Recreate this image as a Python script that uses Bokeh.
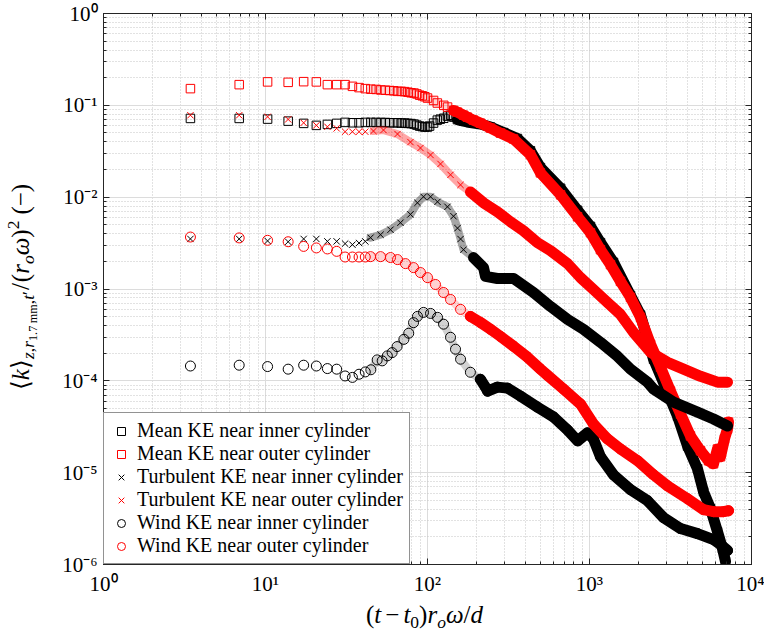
from bokeh.plotting import figure
from bokeh.layouts import row, column
from bokeh.models import (LogAxis, LogTicker, CustomJSTickFormatter, Legend,
                          LegendItem, Range1d, Div)
from bokeh.embed import file_html
from bokeh.resources import INLINE

# ---------------- data ----------------
# first, individually visible samples (t - t0) r_o omega / d
T_EARLY = [3.44, 6.88, 10.3, 13.8, 17.2, 20.6, 24.1, 27.5, 31.0, 34.4, 37.8, 41.3]

# Mean KE near inner cylinder
MI_EARLY = [0.072, 0.072, 0.0708, 0.0673, 0.0636, 0.0605, 0.062, 0.0636, 0.0652, 0.0646, 0.0646, 0.0652]
MI_T = [44.7, 48.2, 51.6, 55.0, 58.5, 61.9, 65.3, 68.8, 72.2, 75.7, 79.1, 82.6, 86.0, 89.4, 92.9, 96.3,
        100, 103, 109, 115, 120, 126, 133, 139, 145, 153, 167, 184, 212, 245, 295, 359, 432, 498, 663,
        844, 1014, 1169, 1406, 1791, 2065, 2485, 3030, 3493, 4028, 4642, 5057, 5583, 6166, 6622, 6910]
MI_K = [0.0652, 0.0652, 0.065, 0.065, 0.0646, 0.0646, 0.0646, 0.0641, 0.0641, 0.0636, 0.0633, 0.0625,
        0.0609, 0.0594, 0.0587, 0.058, 0.058, 0.0594, 0.0641, 0.069, 0.0707, 0.0723, 0.0763, 0.078,
        0.0744, 0.070, 0.0673, 0.065, 0.0625, 0.058, 0.0505, 0.0435, 0.032, 0.021, 0.0125, 0.0072,
        0.0048, 0.0032, 0.00195, 0.00085, 0.00052, 0.000172, 7.54e-5, 4.14e-5, 1.95e-5, 1.1e-5,
        6.2e-6, 4.06e-6, 2.28e-6, 1.49e-6, 1.08e-6]

# Mean KE near outer cylinder
MO_EARLY = [0.152, 0.168, 0.180, 0.178, 0.181, 0.180, 0.168, 0.168, 0.168, 0.161, 0.156, 0.152]
MO_T = [44.7, 48.2, 51.6, 55.0, 58.5, 61.9, 65.3, 68.8, 72.2, 75.7, 79.1, 82.6, 86.0, 89.4, 92.9, 96.3,
        100, 109, 115, 126, 133, 145, 153, 167, 176, 192, 212, 245, 282, 340, 432, 498, 663, 844, 1014,
        1169, 1348, 1553, 1791, 2065, 2381, 2744, 3162, 3647, 4201, 4845, 5430, 5827, 6166, 6435, 6810,
        7112, 7211]
MO_K = [0.150, 0.149, 0.147, 0.146, 0.145, 0.144, 0.142, 0.142, 0.141, 0.139, 0.137, 0.136, 0.133,
        0.129, 0.127, 0.124, 0.120, 0.113, 0.106, 0.100, 0.0957, 0.088, 0.0843, 0.078, 0.0744, 0.069,
        0.064, 0.0565, 0.0499, 0.043, 0.029, 0.0184, 0.0106, 0.00612, 0.0041, 0.00268, 0.00184,
        0.00121, 0.000809, 0.000491, 0.00025, 0.000141, 7.73e-5, 4.35e-5, 2.51e-5, 1.73e-5, 1.35e-5,
        1.25e-5, 1.81e-5, 1.49e-5, 2.33e-5, 2.99e-5, 3.56e-5]

# Turbulent KE near inner cylinder
TI_EARLY = [0.00351, 0.00351, 0.00334, 0.00327, 0.00351, 0.00351, 0.0033, 0.0033, 0.00312, 0.00304, 0.00317, 0.0033]
TI_T = [44.5, 51.3, 59.1, 68.1, 78.5, 86.7, 94.5, 104.4, 115.3, 132.8, 144.7, 153.2, 160, 166.8, 192.3,
        221.8, 228, 270, 340, 451, 574, 732, 919, 1169, 1489, 1791, 2280, 2485, 3302, 4642, 5827, 7112]
TI_K = [0.00362, 0.0039, 0.00442, 0.00527, 0.0065, 0.00868, 0.0101, 0.0101, 0.0089, 0.00785, 0.0062,
        0.0046, 0.0035, 0.00268, 0.0022, 0.00171, 0.00137, 0.0013, 0.0013, 0.000916, 0.000646,
        0.000467, 0.000364, 0.000263, 0.000185, 0.000134, 9.68e-5, 8.12e-5, 5.87e-5, 4.57e-5,
        3.84e-5, 3.22e-5]

# Turbulent KE near outer cylinder
TO_EARLY = [0.078, 0.078, 0.075, 0.0703, 0.0645, 0.0605, 0.0584, 0.0561, 0.0516, 0.0516, 0.0516, 0.0516]
TO_T = [46.4, 53.5, 65.3, 78.5, 90.5, 104.4, 120.3, 138.7, 159.9, 184.2, 221.8, 270.4, 325, 391, 477,
        574, 732, 880, 1058, 1291, 1553, 1870, 2381, 3030, 3806, 4845, 6166, 7112]
TO_K = [0.0525, 0.0538, 0.0487, 0.0398, 0.0343, 0.0288, 0.023, 0.0175, 0.0136, 0.0114, 0.00868,
        0.00693, 0.0054, 0.00431, 0.0032, 0.00262, 0.00189, 0.00133, 0.000988, 0.000714, 0.000529,
        0.000337, 0.000205, 0.000159, 0.000134, 0.000112, 9.68e-5, 9.68e-5]

# Wind KE near inner cylinder
WI_EARLY = [0.000145, 0.000148, 0.000143, 0.000134, 0.000148, 0.000145, 0.000136, 0.000134, 0.000113, 0.000109, 0.000118, 0.000125]
WI_T = [44.7, 48.9, 52.5, 56.5, 60.5, 64.9, 71.5, 76.6, 82.0, 86.7, 94.5, 104.4, 115.3, 125.6, 138.7,
        148.9, 160, 184, 212, 228, 235, 270, 312, 375, 477, 600, 732, 844, 972, 1058, 1169, 1406,
        1791, 2280, 2864, 3647, 4642, 5827, 6435, 7112]
WI_K = [0.000132, 0.000169, 0.000165, 0.000187, 0.000203, 0.000236, 0.000283, 0.00033, 0.00043,
        0.000503, 0.000556, 0.000542, 0.000491, 0.000414, 0.000298, 0.000221, 0.000172, 0.000124,
        0.000104, 8.54e-5, 7.73e-5, 8.54e-5, 8.33e-5, 6.82e-5, 5.18e-5, 4.04e-5, 2.92e-5, 2.22e-5,
        2.71e-5, 2.33e-5, 1.49e-5, 9.48e-6, 6.52e-6, 4.95e-6, 3.24e-6, 2.46e-6, 2.17e-6, 1.87e-6,
        1.65e-6, 1.42e-6]

# Wind KE near outer cylinder
WO_EARLY = [0.00368, 0.0036, 0.00339, 0.00327, 0.00291, 0.0028, 0.00273, 0.00257, 0.00223, 0.00223, 0.00223, 0.00223]
WO_T = [44.5, 51.3, 59.1, 65.3, 73.1, 82, 90.5, 100, 112, 125.6, 138.7, 160, 184, 212, 245, 282, 340,
        414, 498, 550, 692, 880, 1058, 1291, 1553, 1979, 2485, 3030, 4028, 5057, 5827, 6716, 7211]
WO_K = [0.00225, 0.00225, 0.0022, 0.00209, 0.00189, 0.00171, 0.00151, 0.00133, 0.00112, 0.000916,
        0.000769, 0.0006, 0.000503, 0.000433, 0.000364, 0.000305, 0.000238, 0.000181, 0.000134,
        0.000115, 8.12e-5, 5.59e-5, 3.39e-5, 2.33e-5, 1.81e-5, 1.35e-5, 9.48e-6, 7.19e-6, 5.2e-6,
        3.95e-6, 3.76e-6, 3.76e-6, 3.85e-6]

LABELS = ["Mean KE near inner cylinder", "Mean KE near outer cylinder",
          "Turbulent KE near inner cylinder", "Turbulent KE near outer cylinder",
          "Wind KE near inner cylinder", "Wind KE near outer cylinder"]

# ---------------- styling ----------------
BLACK, RED = "#000000", "#ff0000"
AX = "#262626"
FONT = "Liberation Serif"

SERIES = [
    dict(early=MI_EARLY, t=MI_T, k=MI_K, marker="square", size=8.5, color=BLACK, band_from=160, chain_alpha=0.18),
    dict(early=MO_EARLY, t=MO_T, k=MO_K, marker="square", size=8.5, color=RED, band_from=150, chain_alpha=0.18),
    dict(early=TI_EARLY, t=TI_T, k=TI_K, marker="x", size=9, color=BLACK, band_from=220, chain_alpha=0.35),
    dict(early=TO_EARLY, t=TO_T, k=TO_K, marker="x", size=9, color=RED, band_from=200, chain_alpha=0.35),
    dict(early=WI_EARLY, t=WI_T, k=WI_K, marker="circle", size=10, color=BLACK, band_from=225, chain_alpha=0.18),
    dict(early=WO_EARLY, t=WO_T, k=WO_K, marker="circle", size=10, color=RED, band_from=200, chain_alpha=0.18),
]

YFIG_W = 52      # strip left of the plot holding the y label
MAIN_W = 764 - YFIG_W
MAIN_H = 598
XFIG_H = 634 - MAIN_H

p = figure(width=MAIN_W, height=MAIN_H, x_axis_type="log", y_axis_type="log",
           x_range=Range1d(1, 1e4), y_range=Range1d(1e-6, 1),
           output_backend="svg", toolbar_location=None,
           min_border_left=103 - YFIG_W, min_border_right=13, min_border_top=13,
           min_border_bottom=MAIN_H - 566)
p.background_fill_color = "white"
p.border_fill_color = "white"
p.outline_line_color = AX

SUP = """
const e = Math.round(Math.log10(tick));
const sup = {'0':'\u2070','1':'\u00b9','2':'\u00b2','3':'\u00b3','4':'\u2074','5':'\u2075',
             '6':'\u2076','7':'\u2077','8':'\u2078','9':'\u2079','-':'\u207b'};
return '10' + String(e).split('').map(c => sup[c]).join('');
"""

def style_axis(ax, labels=True):
    ax.ticker = LogTicker(mantissas=[1], num_minor_ticks=10, desired_num_ticks=7)
    ax.axis_line_color = AX
    ax.major_tick_line_color = AX
    ax.minor_tick_line_color = AX
    ax.major_tick_in = 6
    ax.major_tick_out = 0
    ax.minor_tick_in = 3
    ax.minor_tick_out = 0
    if labels:
        ax.formatter = CustomJSTickFormatter(code=SUP)
        ax.major_label_text_font = FONT
        ax.major_label_text_font_size = "21px"
        ax.major_label_text_color = "black"
    else:
        ax.formatter = CustomJSTickFormatter(code="return '';")
        ax.major_label_text_font_size = "1px"
        ax.major_label_standoff = 0

style_axis(p.xaxis[0])
style_axis(p.yaxis[0])
p.xaxis[0].major_label_standoff = 7
p.yaxis[0].major_label_standoff = 6

top = LogAxis()
style_axis(top, labels=False)
p.add_layout(top, "above")
right = LogAxis()
style_axis(right, labels=False)
p.add_layout(right, "right")

for g in (p.xgrid[0], p.ygrid[0]):
    g.ticker = LogTicker(mantissas=[1], num_minor_ticks=10, desired_num_ticks=7)
    g.grid_line_color = "#dcdcdc"
    g.grid_line_width = 1
    g.minor_grid_line_color = "#c4c4c4"
    g.minor_grid_line_dash = "1 2"
    g.minor_grid_line_width = 1

renderers = []
for s in SERIES:
    t_all = T_EARLY + s["t"]
    k_all = s["early"] + s["k"]
    chain_t = [t for t in s["t"] if t <= s["band_from"]]
    chain_k = [k for t, k in zip(s["t"], s["k"]) if t <= s["band_from"]]
    n_ch = len(chain_t)
    band_t = s["t"][max(n_ch - 1, 0):]
    band_k = s["k"][max(n_ch - 1, 0):]
    p.line(chain_t, chain_k, line_color=s["color"], line_width=8, line_alpha=s["chain_alpha"],
           line_join="round", line_cap="round")
    p.line(band_t, band_k, line_color=s["color"], line_width=11, line_alpha=1.0,
           line_join="round", line_cap="round")
    r = p.scatter(t_all, k_all, marker=s["marker"], size=s["size"], fill_color=None,
                  line_color=s["color"], line_width=1)
    renderers.append(r)

legend = Legend(items=[LegendItem(label=l, renderers=[r]) for l, r in zip(LABELS, renderers)],
                location=(0, 0), orientation="vertical")
legend.label_text_font = FONT
legend.label_text_font_size = "20px"
legend.label_text_color = "black"
legend.border_line_color = AX
legend.border_line_width = 1
legend.background_fill_color = "white"
legend.background_fill_alpha = 1.0
legend.padding = 6
legend.margin = 0
legend.label_height = 20
legend.glyph_height = 20
legend.glyph_width = 22
legend.label_standoff = 5
legend.spacing = 0
p.add_layout(legend)

# ---------------- axis labels as HTML text in strips beside the plot ----------------
SUB = "font-size:70%;position:relative;top:0.3em;"
SUBSUB = "font-size:70%;position:relative;top:0.25em;"
SUPS = "font-size:70%;position:relative;top:-0.55em;"
BASE = (f"white-space:nowrap;font-family:'{FONT}';font-size:25px;line-height:30px;"
        "color:#000;")

y_text = (f"\u27e8<i>k</i>\u27e9<span style='{SUB}'><i>z</i>,<i>r</i>"
          f"<span style='{SUBSUB}'>1.7\u2009mm</span>,<i>t</i>\u2032</span>"
          f"<span style='margin:0 1px'>/</span>(<i>r</i><span style='{SUB}'><i>o</i></span>"
          f"<i>\u03c9</i>)<span style='{SUPS}'>2</span><span style='margin-left:6px'>(\u2212)</span>")
y_html = (f"<div style='position:relative;width:{YFIG_W}px;height:{MAIN_H}px;'>"
          f"<div style=\"position:absolute;left:23px;top:287px;"
          f"transform:translate(-50%,-50%) rotate(-90deg);{BASE}\">{y_text}</div></div>")

x_text = (f"(<i>t</i><span style='margin:0 4px'>\u2212</span><i>t</i>"
          f"<span style='{SUB}'>0</span>)<i>r</i><span style='{SUB}'><i>o</i></span>"
          f"<i>\u03c9</i>/<i>d</i>")
x_html = (f"<div style='position:relative;width:764px;height:{XFIG_H}px;'>"
          f"<div style=\"position:absolute;left:366px;top:2px;{BASE}\">{x_text}</div></div>")

ydiv = Div(text=y_html, width=YFIG_W, height=MAIN_H, margin=(0, 0, 0, 0),
           styles={"padding": "0", "margin": "0", "background": "white"})
xdiv = Div(text=x_html, width=764, height=XFIG_H, margin=(0, 0, 0, 0),
           styles={"padding": "0", "margin": "0", "background": "white"})

layout = column(row(ydiv, p, spacing=0), xdiv, spacing=0)
open("out.html", "w").write(file_html(layout, INLINE))
